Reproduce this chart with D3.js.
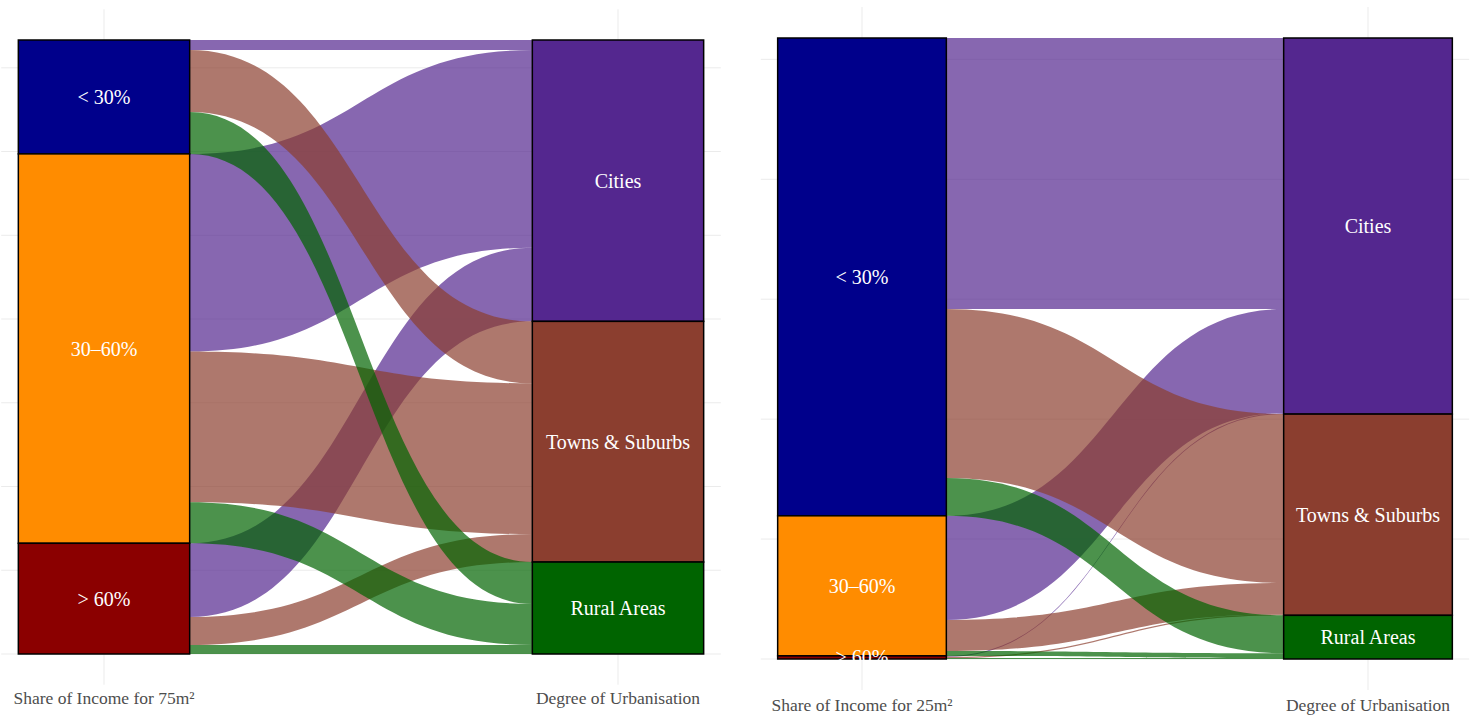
<!DOCTYPE html>
<html>
<head>
<meta charset="utf-8">
<script src="https://cdn.jsdelivr.net/npm/d3@7"></script>
<style>
  body { margin: 0; background: #fff; }
</style>
</head>
<body>
<div id="chart"></div>
<script>
const incomeLevels = ['< 30%', '30–60%', '> 60%']
const urbanLevels = ['Cities', 'Towns & Suburbs', 'Rural Areas']
const incomeColors = ['#00008B', '#FF8C00', '#8B0000']
const urbanColors = ['#54278F', '#8B3E2F', '#006400']

// rows = share of income band, columns = degree of urbanisation
const counts75 = [
  [6, 37, 25],
  [118, 90, 24.5],
  [44, 16.7, 5.4]
]
const counts25 = [
  [56.5, 35.2, 7.9],
  [21.7, 6.5, 1.0],
  [0.2, 0.25, 0.2]
]
const titles75 = ['Share of Income for 75m²', 'Degree of Urbanisation']
const titles25 = ['Share of Income for 25m²', 'Degree of Urbanisation']

const width = 1473
const height = 715

const svg = d3
  .select('#chart')
  .append('svg')
  .attr('width', width)
  .attr('height', height)
  .attr('font-family', "'Liberation Serif', 'DejaVu Serif', serif")

function flowPath(xa, xb, a0, a1, b0, b1) {
  const xm = (xa + xb) / 2
  const p = d3.path()
  p.moveTo(xa, a0)
  p.bezierCurveTo(xm, a0, xm, b0, xb, b0)
  p.lineTo(xb, b1)
  p.bezierCurveTo(xm, b1, xm, a1, xa, a1)
  p.closePath()
  return p.toString()
}

function drawPanel(counts, titles, step, box) {
  const total = d3.sum(counts.flat())
  const pad = total * 0.05
  const x = d3.scaleLinear().domain([1, 2]).range([box.x1, box.x2])
  const y = d3.scaleLinear().domain([0, total]).range([box.top, box.bottom])
  const g = svg.append('g')

  // grid
  g.selectAll('.hgrid')
    .data(d3.range(0, total + pad, step))
    .enter()
    .append('line')
    .attr('x1', x(0.8))
    .attr('x2', Math.min(x(2.2), width))
    .attr('y1', d => y(total - d))
    .attr('y2', d => y(total - d))
    .attr('stroke', '#ebebeb')
    .attr('stroke-width', 1)

  g.selectAll('.vgrid')
    .data([1, 2])
    .enter()
    .append('line')
    .attr('x1', d => x(d))
    .attr('x2', d => x(d))
    .attr('y1', y(-pad))
    .attr('y2', y(total + pad))
    .attr('stroke', '#ebebeb')
    .attr('stroke-width', 1)

  const rowTotals = counts.map(r => d3.sum(r))
  const colTotals = urbanLevels.map((u, j) => d3.sum(counts, r => r[j]))
  const rowStart = d3.cumsum([0].concat(rowTotals))
  const colStart = d3.cumsum([0].concat(colTotals))

  // flows, stacked by destination on the left and by origin on the right
  const flows = []
  counts.forEach((row, i) => {
    row.forEach((v, j) => {
      const a0 = rowStart[i] + d3.sum(row.slice(0, j))
      const b0 = colStart[j] + d3.sum(counts.slice(0, i), r => r[j])
      flows.push({ i, j, a0, a1: a0 + v, b0, b1: b0 + v })
    })
  })
  flows.sort((a, b) => a.j - b.j || a.i - b.i)

  g.selectAll('.flow')
    .data(flows)
    .enter()
    .append('path')
    .attr('d', d =>
      flowPath(x(1 + 1 / 6), x(2 - 1 / 6), y(d.a0), y(d.a1), y(d.b0), y(d.b1))
    )
    .attr('fill', d => urbanColors[d.j])
    .attr('fill-opacity', 0.7)

  // strata
  const strata = incomeLevels
    .map((name, i) => ({ name, axis: 1, y0: rowStart[i], y1: rowStart[i + 1], fill: incomeColors[i] }))
    .concat(
      urbanLevels.map((name, j) => ({ name, axis: 2, y0: colStart[j], y1: colStart[j + 1], fill: urbanColors[j] }))
    )

  g.selectAll('.stratum')
    .data(strata)
    .enter()
    .append('rect')
    .attr('x', d => x(d.axis - 1 / 6))
    .attr('width', x(1 / 3) - x(0))
    .attr('y', d => y(d.y0))
    .attr('height', d => y(d.y1) - y(d.y0))
    .attr('fill', d => d.fill)
    .attr('stroke', '#000')
    .attr('stroke-width', 1.5)

  g.selectAll('.stratum-label')
    .data(strata)
    .enter()
    .append('text')
    .text(d => d.name)
    .attr('x', d => x(d.axis))
    .attr('y', d => (y(d.y0) + y(d.y1)) / 2)
    .attr('text-anchor', 'middle')
    .attr('dominant-baseline', 'central')
    .attr('fill', '#fff')
    .attr('font-size', 20)

  g.selectAll('.axis-title')
    .data(titles)
    .enter()
    .append('text')
    .text(d => d)
    .attr('x', (d, i) => x(i + 1))
    .attr('y', box.titleY)
    .attr('text-anchor', 'middle')
    .attr('fill', '#4d4d4d')
    .attr('font-size', 17.5)
}

drawPanel(counts75, titles75, 50, { x1: 104, x2: 618, top: 40, bottom: 654, titleY: 704 })
drawPanel(counts25, titles25, 25, { x1: 862, x2: 1368, top: 38, bottom: 659, titleY: 711 })
</script>
</body>
</html>
